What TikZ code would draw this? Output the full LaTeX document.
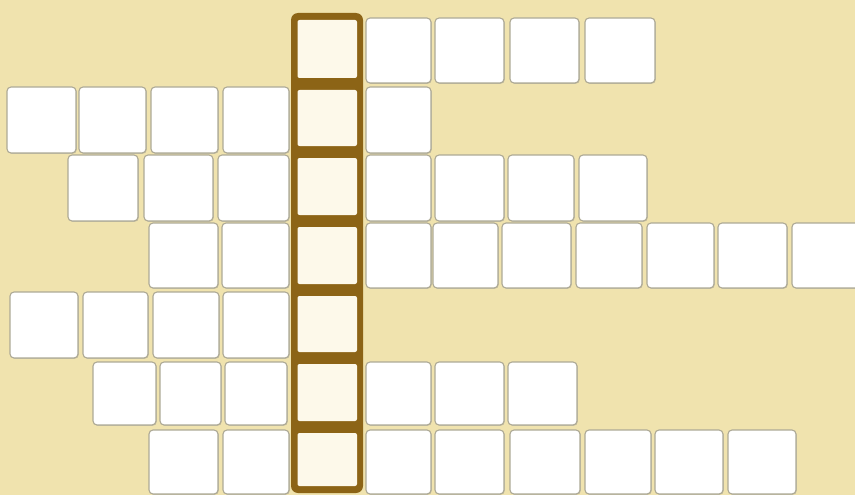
\documentclass[tikz,border=0pt]{standalone}
\definecolor{bg}{HTML}{F0E3AE}
\definecolor{hlborder}{HTML}{8C6416}
\definecolor{hlfill}{HTML}{FDF9EA}
\definecolor{cellborder}{HTML}{ADA996}
\definecolor{cellshadow}{HTML}{C9C2A0}
\begin{document}
\begin{tikzpicture}[x=1pt,y=-1pt,
  cellbox/.style={fill=white,draw=cellborder,line width=1.1pt,rounded corners=4pt},
  cellshade/.style={fill=cellshadow,rounded corners=4pt},
  hlframe/.style={fill=hlborder,rounded corners=7pt},
  hlinner/.style={fill=hlfill,rounded corners=2pt}]
\fill[bg] (0,0) rectangle (855,495);
\useasboundingbox (0,0) rectangle (855,495);
% white cells: ytop/ybottom/{xleft/xright,...}
\foreach \ya/\yb/\cells in {
  18/83/{366/431,435/504,510/579,585/655},
  87/153/{7/76,79/146,151/218,223/289,366/431},
  155/221/{68/138,144/213,218/289,366/431,435/504,508/574,579/647},
  223/288/{149/218,222/289,366/431,433/498,502/571,576/642,647/714,718/787,792/862},
  292/358/{10/78,83/148,153/219,223/289},
  362/425/{93/156,160/221,225/287,366/431,435/504,508/577},
  430/494/{149/218,223/289,366/431,435/504,510/580,585/651,655/723,728/796}}
{
  \foreach \xa/\xb in \cells {
    \fill[cellshade] (\xa+0.8,\ya+0.8) rectangle (\xb+0.8,\yb+0.8);
    \draw[cellbox] (\xa,\ya) rectangle (\xb,\yb);
  }
}
% highlighted column: frame, then one cream square per cell
\fill[hlframe] (291,13) rectangle (363,493);
\foreach \ya/\yb in {20/78,90/146,158/215,227/284,296/352,364/421,433/486}
{
  \fill[hlinner] (297.5,\ya) rectangle (357,\yb);
}
\end{tikzpicture}
\end{document}
